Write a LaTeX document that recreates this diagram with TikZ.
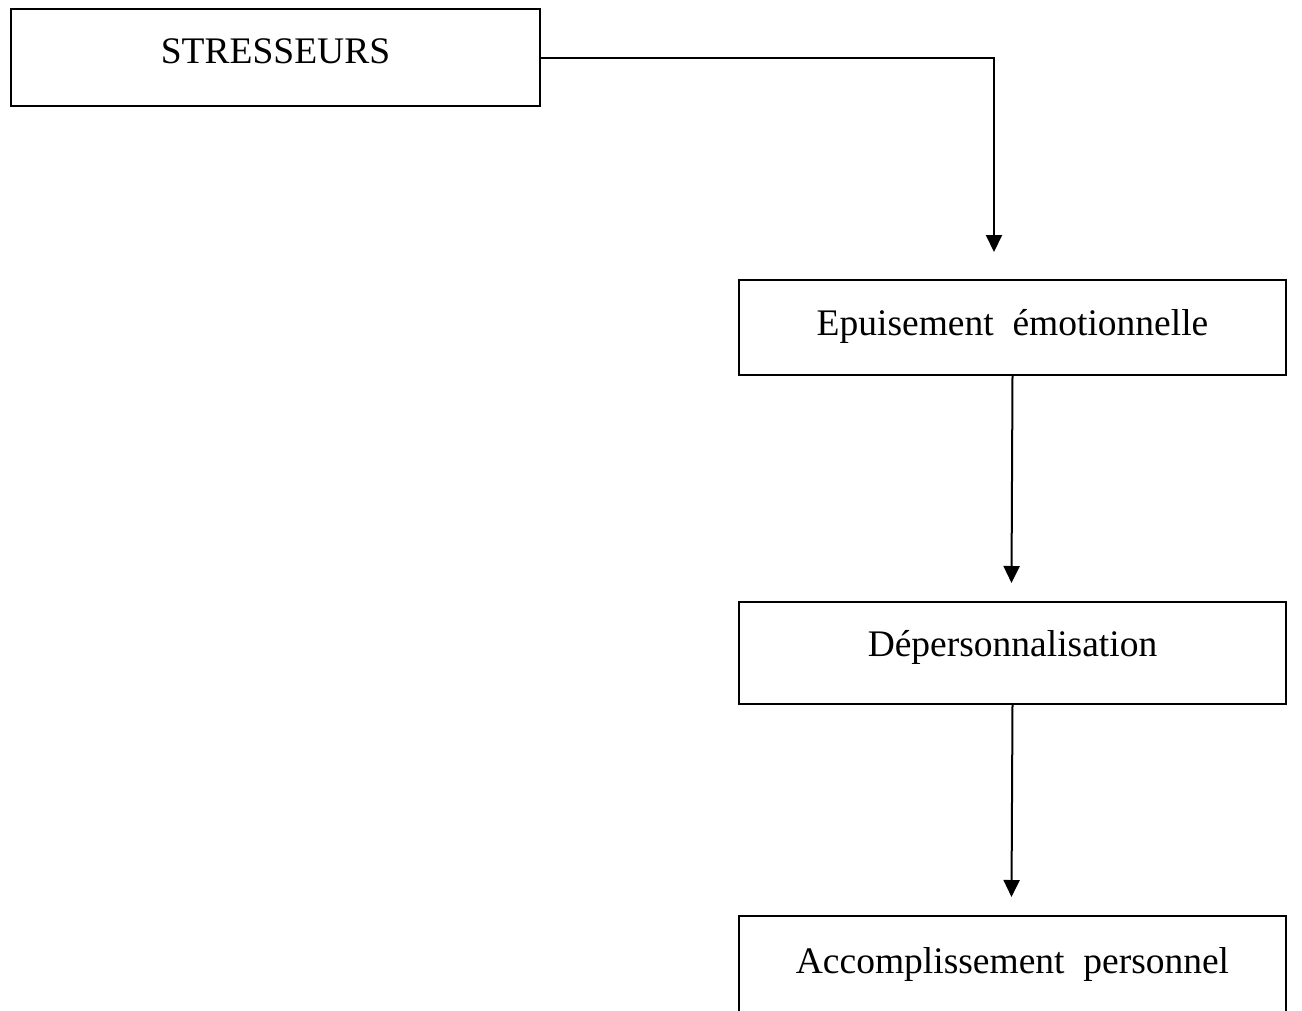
\documentclass[tikz,border=0pt]{standalone}
\usepackage{fontspec}
\setmainfont{Liberation Serif}
\usetikzlibrary{arrows.meta}
\begin{document}
\begin{tikzpicture}[x=1pt,y=-1pt,
  box/.style={draw,line width=2pt,inner sep=0pt,minimum width=547pt,align=center,
    font=\fontsize{37.5}{44}\selectfont},
  conn/.style={line width=2pt,-{Triangle[width=16pt,length=17pt]}}]
\clip (0,0) rectangle (1302,1010);
\useasboundingbox (0,0) rectangle (1302,1010);
\node[box,minimum width=529pt,text height=54pt,text depth=43pt,anchor=north west] (s) at (10,8) {STRESSEURS};
\node[box,text height=55pt,text depth=40pt,anchor=north west] (e) at (738,279) {Epuisement\ \ émotionnelle};
\node[box,text height=54pt,text depth=48pt,anchor=north west] (d) at (738,601) {Dépersonnalisation};
\node[box,text height=57pt,text depth=80pt,anchor=north west] (a) at (738,915) {Accomplissement\ \ personnel};
\coordinate (t1) at (994,252);
\coordinate (t2) at (1011.5,583);
\coordinate (t3) at (1011.5,897);
\draw[conn] (s.east) -| (t1);
\draw[conn] (e.south) -- (t2);
\draw[conn] (d.south) -- (t3);
\end{tikzpicture}
\end{document}
